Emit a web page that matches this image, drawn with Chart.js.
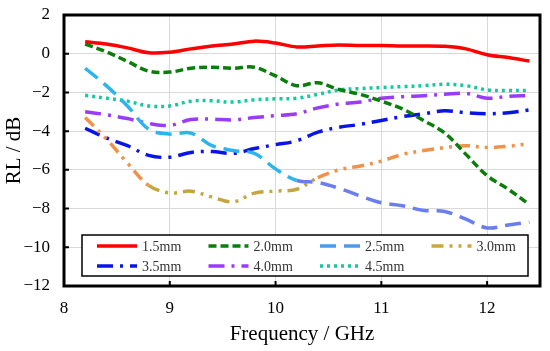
<!DOCTYPE html>
<html>
<head>
<meta charset="utf-8">
<script src="https://cdn.jsdelivr.net/npm/chart.js@4.4.1/dist/chart.umd.min.js"></script>
<style>
  html, body { margin: 0; padding: 0; background: #fff; }
  #wrap { width: 550px; height: 351px; }
</style>
</head>
<body>
<div id="wrap"><canvas id="rlChart" width="550" height="351"></canvas></div>
<script>
// Frequency points (GHz)
const freq = [8.2, 8.4, 8.6, 8.8, 9.0, 9.2, 9.4, 9.6, 9.8, 10.0, 10.2,
              10.4, 10.6, 10.8, 11.0, 11.2, 11.4, 11.6, 11.8, 12.0, 12.2, 12.4];

// Reflection loss (dB) for each thickness
const rl15 = [0.62, 0.5, 0.3, 0.05, 0.08, 0.25, 0.4, 0.5, 0.65, 0.55, 0.35,
              0.4, 0.45, 0.42, 0.42, 0.4, 0.4, 0.38, 0.25, -0.05, -0.2, -0.38];
const rl20 = [0.5, 0.1, -0.4, -0.9, -0.95, -0.75, -0.7, -0.75, -0.7, -1.15, -1.65,
              -1.5, -1.85, -2.1, -2.45, -2.85, -3.45, -4.1, -5.2, -6.3, -7.0, -7.8];
const rl25 = [-0.75, -1.65, -2.7, -3.9, -4.15, -4.1, -4.75, -5.0, -5.15, -5.95, -6.55,
              -6.65, -6.95, -7.35, -7.7, -7.85, -8.1, -8.15, -8.55, -9.0, -8.85, -8.7];
const rl30 = [-3.3, -4.4, -5.65, -6.8, -7.2, -7.1, -7.4, -7.65, -7.2, -7.1, -7.0,
              -6.4, -6.0, -5.8, -5.55, -5.2, -5.0, -4.85, -4.75, -4.85, -4.78, -4.65];
const rl35 = [-3.85, -4.35, -4.75, -5.25, -5.35, -5.1, -5.05, -5.15, -4.9, -4.7, -4.5,
              -4.05, -3.8, -3.65, -3.45, -3.25, -3.1, -2.95, -3.05, -3.1, -3.05, -2.9];
const rl40 = [-3.0, -3.15, -3.35, -3.6, -3.7, -3.4, -3.38, -3.42, -3.3, -3.2, -3.1,
              -2.8, -2.6, -2.5, -2.3, -2.22, -2.17, -2.1, -2.05, -2.3, -2.2, -2.17];
const rl45 = [-2.15, -2.3, -2.45, -2.7, -2.7, -2.45, -2.43, -2.5, -2.38, -2.33, -2.3,
              -2.1, -1.87, -1.8, -1.75, -1.7, -1.65, -1.58, -1.65, -1.87, -1.9, -1.9];

const seriesNames = ['1.5mm', '2.0mm', '2.5mm', '3.0mm', '3.5mm', '4.0mm', '4.5mm'];
const xTicks = [8, 9, 10, 11, 12];
const yTicks = [2, 0, -2, -4, -6, -8, -10, -12];

const fontFamily = '"Liberation Serif", "Times New Roman", serif';

function toPoints(values) {
    return freq.map((f, i) => ({ x: f, y: values[i] }));
}

function makeSet(label, values, color, dash, cap) {
    return {
        label: label,
        data: toPoints(values),
        borderColor: color,
        backgroundColor: color,
        borderWidth: 3.5,
        borderDash: dash,
        borderCapStyle: cap || 'butt',
        pointRadius: 0,
        tension: 0.35,
        fill: false
    };
}

// draws the black frame, inward ticks and the boxed legend
const framePlugin = {
    id: 'frameAndLegend',
    afterDraw(chart) {
        const ctx = chart.ctx;
        const a = chart.chartArea;
        const xs = chart.scales.x;
        const ys = chart.scales.y;
        ctx.save();

        // inward ticks
        ctx.strokeStyle = '#000';
        ctx.lineWidth = 2;
        ctx.beginPath();
        xTicks.forEach(v => {
            const px = xs.getPixelForValue(v);
            ctx.moveTo(px, a.bottom);
            ctx.lineTo(px, a.bottom - 5);
        });
        yTicks.forEach(v => {
            const py = ys.getPixelForValue(v);
            ctx.moveTo(a.left, py);
            ctx.lineTo(a.left + 5, py);
        });
        ctx.stroke();

        // frame
        ctx.lineWidth = 3;
        ctx.strokeRect(a.left, a.top, a.right - a.left, a.bottom - a.top);

        // legend box
        const bx = 82, by = 235, bw = 446, bh = 41;
        ctx.fillStyle = '#fff';
        ctx.fillRect(bx, by, bw, bh);
        ctx.lineWidth = 1.5;
        ctx.strokeStyle = '#000';
        ctx.strokeRect(bx, by, bw, bh);

        ctx.font = '14px ' + fontFamily;
        ctx.textBaseline = 'middle';
        ctx.textAlign = 'left';
        chart.data.datasets.forEach((ds, i) => {
            const col = i % 4;
            const row = Math.floor(i / 4);
            const x0 = 97 + col * 111.5;
            const y0 = 246 + row * 20;
            ctx.save();
            ctx.strokeStyle = ds.borderColor;
            ctx.lineWidth = ds.borderWidth;
            ctx.setLineDash(ds.borderDash || []);
            ctx.lineCap = ds.borderCapStyle;
            ctx.beginPath();
            ctx.moveTo(x0, y0);
            ctx.lineTo(x0 + 40, y0);
            ctx.stroke();
            ctx.restore();
            ctx.fillStyle = '#333';
            ctx.fillText(ds.label, x0 + 45, y0 + 1);
        });
        ctx.restore();
    }
};

const set25 = makeSet(seriesNames[2], rl25, '#4a9ae8', [16, 8]);
set25.segment = {
    borderColor: c => (c.p0.parsed.x < 10.05 ? '#2cb4ec' : '#6a7ef0')
};
const set30 = makeSet(seriesNames[3], rl30, '#c9a640', [12, 6, 3, 6, 3, 6]);
set30.segment = {
    borderColor: c => (c.p0.parsed.x >= 8.7 && c.p0.parsed.x < 10.3 ? '#c4a63c' : '#f2914a')
};

const config = {
    type: 'line',
    data: {
        datasets: [
            makeSet(seriesNames[0], rl15, '#ff0000', []),
            makeSet(seriesNames[1], rl20, '#0b7d0b', [8, 4]),
            set25,
            set30,
            makeSet(seriesNames[4], rl35, '#0a14e6', [16, 7, 3, 7]),
            makeSet(seriesNames[5], rl40, '#9a3cf5', [16, 7, 3, 7]),
            makeSet(seriesNames[6], rl45, '#14c8a0', [3, 4])
        ]
    },
    options: {
        responsive: false,
        animation: false,
        layout: { padding: { top: 15, right: 10, left: 0, bottom: 0 } },
        plugins: {
            legend: { display: false },
            tooltip: { enabled: false }
        },
        scales: {
            x: {
                type: 'linear',
                min: 8,
                max: 12.5,
                border: { display: false },
                grid: { color: '#d9d9d9', lineWidth: 1, drawTicks: false },
                ticks: {
                    stepSize: 1,
                    includeBounds: false,
                    padding: 12,
                    color: '#000',
                    font: { family: fontFamily, size: 17 }
                },
                title: {
                    display: true,
                    text: 'Frequency / GHz',
                    color: '#000',
                    font: { family: fontFamily, size: 21 },
                    padding: { top: 0, bottom: 4 }
                },
                afterFit(scale) {
                    scale.height = 65;
                    scale.paddingLeft = 0;
                    scale.paddingRight = 0;
                }
            },
            y: {
                min: -12,
                max: 2,
                border: { display: false },
                grid: { color: '#d9d9d9', lineWidth: 1, drawTicks: false },
                ticks: {
                    stepSize: 2,
                    padding: 14,
                    color: '#000',
                    font: { family: fontFamily, size: 17 },
                    callback: v => String(v).replace('-', '\u2212')
                },
                title: {
                    display: true,
                    text: 'RL / dB',
                    color: '#000',
                    font: { family: fontFamily, size: 21 },
                    padding: { top: 2, bottom: 0 }
                },
                afterFit(scale) {
                    scale.width = 64;
                    scale.paddingTop = 0;
                    scale.paddingBottom = 0;
                }
            }
        }
    },
    plugins: [framePlugin]
};

const rlChart = new Chart(document.getElementById('rlChart'), config);
</script>
</body>
</html>
